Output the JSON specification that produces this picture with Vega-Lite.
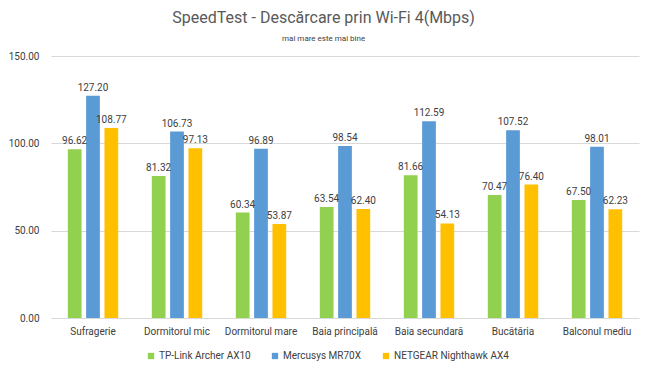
{
  "$schema": "https://vega.github.io/schema/vega-lite/v6.json",
  "width": 588,
  "height": 262,
  "padding": {"left": 8, "top": 10, "right": 8, "bottom": 5},
  "background": "white",
  "title": {
    "text": "SpeedTest - Descărcare prin Wi-Fi 4(Mbps)",
    "subtitle": "mai mare este mai bine",
    "fontSize": 16,
    "fontWeight": "normal",
    "font": "Roboto",
    "color": "#595959",
    "subtitleFontSize": 8,
    "subtitleFont": "Roboto",
    "subtitleColor": "#404040",
    "subtitlePadding": 9,
    "anchor": "middle",
    "frame": "bounds",
    "offset": 8
  },
  "data": {
    "values": [
      {"loc": "Sufragerie", "router": "TP-Link Archer AX10", "v": 96.62},
      {"loc": "Sufragerie", "router": "Mercusys MR70X", "v": 127.20},
      {"loc": "Sufragerie", "router": "NETGEAR Nighthawk AX4", "v": 108.77},
      {"loc": "Dormitorul mic", "router": "TP-Link Archer AX10", "v": 81.32},
      {"loc": "Dormitorul mic", "router": "Mercusys MR70X", "v": 106.73},
      {"loc": "Dormitorul mic", "router": "NETGEAR Nighthawk AX4", "v": 97.13},
      {"loc": "Dormitorul mare", "router": "TP-Link Archer AX10", "v": 60.34},
      {"loc": "Dormitorul mare", "router": "Mercusys MR70X", "v": 96.89},
      {"loc": "Dormitorul mare", "router": "NETGEAR Nighthawk AX4", "v": 53.87},
      {"loc": "Baia principală", "router": "TP-Link Archer AX10", "v": 63.54},
      {"loc": "Baia principală", "router": "Mercusys MR70X", "v": 98.54},
      {"loc": "Baia principală", "router": "NETGEAR Nighthawk AX4", "v": 62.40},
      {"loc": "Baia secundară", "router": "TP-Link Archer AX10", "v": 81.66},
      {"loc": "Baia secundară", "router": "Mercusys MR70X", "v": 112.59},
      {"loc": "Baia secundară", "router": "NETGEAR Nighthawk AX4", "v": 54.13},
      {"loc": "Bucătăria", "router": "TP-Link Archer AX10", "v": 70.47},
      {"loc": "Bucătăria", "router": "Mercusys MR70X", "v": 107.52},
      {"loc": "Bucătăria", "router": "NETGEAR Nighthawk AX4", "v": 76.40},
      {"loc": "Balconul mediu", "router": "TP-Link Archer AX10", "v": 67.50},
      {"loc": "Balconul mediu", "router": "Mercusys MR70X", "v": 98.01},
      {"loc": "Balconul mediu", "router": "NETGEAR Nighthawk AX4", "v": 62.23}
    ]
  },
  "encoding": {
    "x": {
      "field": "loc",
      "type": "nominal",
      "sort": null,
      "scale": {"paddingInner": 0.4, "paddingOuter": 0.2},
      "axis": {"title": null, "labelAngle": 0, "ticks": false, "domain": false, "labelPadding": 8, "labelFontSize": 10, "labelColor": "#404040", "labelFont": "Roboto"}
    },
    "xOffset": {
      "field": "router",
      "type": "nominal",
      "sort": ["TP-Link Archer AX10", "Mercusys MR70X", "NETGEAR Nighthawk AX4"],
      "scale": {"paddingInner": 0.25, "paddingOuter": 0}
    },
    "y": {
      "field": "v",
      "type": "quantitative",
      "scale": {"domain": [0, 150], "nice": false},
      "axis": {"title": null, "values": [0, 50, 100, 150], "format": ".2f", "grid": true, "gridColor": "#d9d9d9", "domain": false, "ticks": false, "labelPadding": 12, "labelFontSize": 10, "labelColor": "#404040", "labelFont": "Roboto"}
    }
  },
  "layer": [
    {
      "mark": {"type": "bar"},
      "encoding": {
        "color": {
          "field": "router",
          "type": "nominal",
          "sort": ["TP-Link Archer AX10", "Mercusys MR70X", "NETGEAR Nighthawk AX4"],
          "scale": {"domain": ["TP-Link Archer AX10", "Mercusys MR70X", "NETGEAR Nighthawk AX4"], "range": ["#92D050", "#5B9BD5", "#FFC000"]},
          "legend": {"title": null, "orient": "none", "legendX": 95, "legendY": 295, "direction": "horizontal", "symbolType": "square", "symbolSize": 40, "labelOffset": 3, "labelFontSize": 10, "labelColor": "#404040", "labelFont": "Roboto", "columnPadding": 19, "symbolStrokeWidth": 0}
        }
      }
    },
    {
      "mark": {"type": "text", "dy": -8, "fontSize": 10, "color": "#404040", "font": "Roboto"},
      "encoding": {
        "text": {"field": "v", "type": "quantitative", "format": ".2f"}
      }
    }
  ],
  "config": {"view": {"stroke": null}}
}
